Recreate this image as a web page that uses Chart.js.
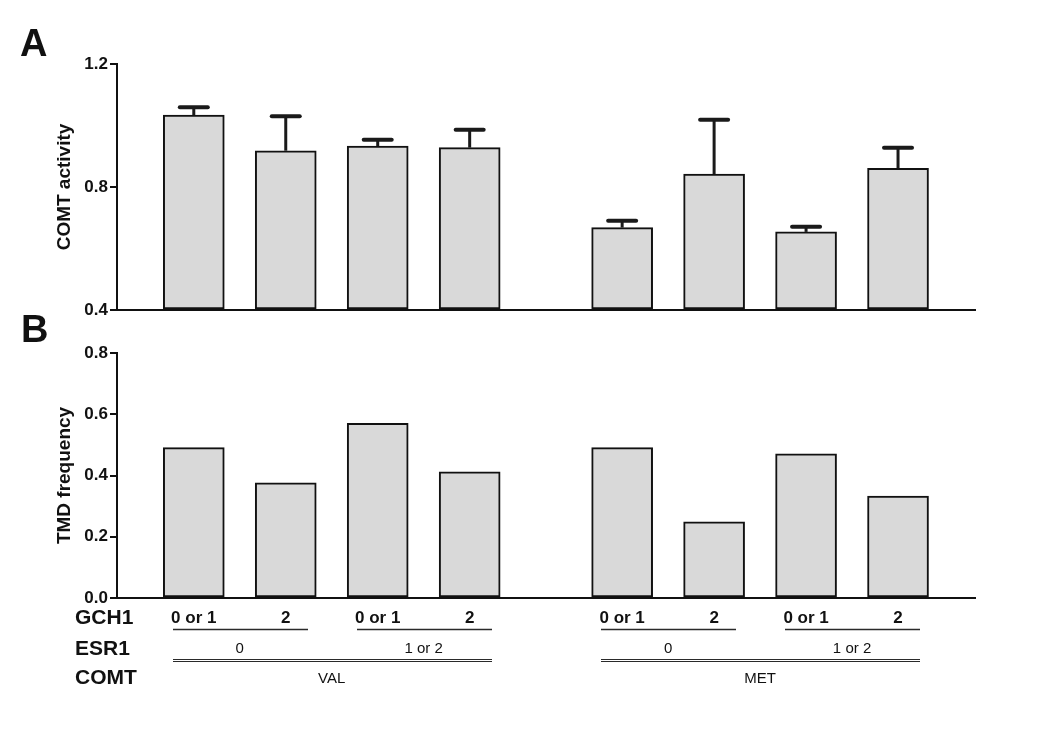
<!DOCTYPE html>
<html>
<head>
<meta charset="utf-8">
<script src="https://cdn.jsdelivr.net/npm/chart.js@4.4.1/dist/chart.umd.min.js"></script>
<style>
  html, body { margin: 0; padding: 0; background: #fff; }
  #wrap { position: relative; width: 1050px; height: 729px; }
  canvas { position: absolute; left: 0; }
  #activityChart { top: 0; }
  #frequencyChart { top: 300px; }
</style>
</head>
<body>
<div id="wrap">
  <canvas id="activityChart" width="1050" height="330"></canvas>
  <canvas id="frequencyChart" width="1050" height="429"></canvas>
</div>
<script>
// ===== Data =====
const gch1Labels = ['0 or 1', '2', '0 or 1', '2', '0 or 1', '2', '0 or 1', '2'];
const esr1Labels = ['0', '1 or 2', '0', '1 or 2'];
const comtLabels = ['VAL', 'MET'];

const activityMean = [1.034, 0.918, 0.933, 0.928, 0.668, 0.842, 0.654, 0.861];
const activitySem  = [0.025, 0.112, 0.021, 0.058, 0.022, 0.177, 0.017, 0.067];
const tmdFrequency = [0.491, 0.376, 0.570, 0.412, 0.491, 0.249, 0.471, 0.333];

const activityTicks  = [0.4, 0.8, 1.2];
const frequencyTicks = [0.0, 0.2, 0.4, 0.6, 0.8];

// ===== Layout helpers =====
const FONT = "'Liberation Sans', Arial, Helvetica, sans-serif";
const INK = '#111';
const GROUP_GAP = 0.658;   // extra space between VAL and MET groups, in bar slots

function barX(i) {
    return i + 1 + (i >= 4 ? GROUP_GAP : 0);
}

// error bars (upper only) for panel A
const errorBarPlugin = {
    id: 'errorBars',
    afterDatasetsDraw(chart) {
        const { ctx } = chart;
        const yScale = chart.scales.y;
        const meta = chart.getDatasetMeta(0);
        ctx.save();
        ctx.strokeStyle = '#1a1a1a';
        meta.data.forEach((bar, i) => {
            const top = yScale.getPixelForValue(activityMean[i] + activitySem[i]);
            ctx.lineCap = 'butt';
            ctx.lineWidth = 3;
            ctx.beginPath();
            ctx.moveTo(bar.x, bar.y);
            ctx.lineTo(bar.x, top);
            ctx.stroke();
            ctx.lineCap = 'round';
            ctx.lineWidth = 4;
            ctx.beginPath();
            ctx.moveTo(bar.x - 14, top);
            ctx.lineTo(bar.x + 14, top);
            ctx.stroke();
        });
        ctx.restore();
    }
};

function panelLetter(letter, x, y) {
    return {
        id: 'panelLetter',
        afterDraw(chart) {
            const { ctx } = chart;
            ctx.save();
            ctx.fillStyle = INK;
            ctx.font = 'bold 38px ' + FONT;
            ctx.textAlign = 'left';
            ctx.textBaseline = 'alphabetic';
            ctx.fillText(letter, x, y);
            ctx.restore();
        }
    };
}

// genotype rows under panel B
const groupLabelPlugin = {
    id: 'groupLabels',
    afterDraw(chart) {
        const { ctx, chartArea } = chart;
        const xScale = chart.scales.x;
        const base = chartArea.bottom;
        const px = i => xScale.getPixelForValue(barX(i));
        const hline = (l, r, y, w) => {
            ctx.lineWidth = w;
            ctx.beginPath();
            ctx.moveTo(Math.round(l), y);
            ctx.lineTo(Math.round(r), y);
            ctx.stroke();
        };

        ctx.save();
        ctx.fillStyle = INK;
        ctx.strokeStyle = '#2a2a2a';
        ctx.textBaseline = 'middle';

        // row titles
        ctx.font = 'bold 21px ' + FONT;
        ctx.textAlign = 'left';
        ctx.fillText('GCH1', 75, base + 20);
        ctx.fillText('ESR1', 75, base + 51);
        ctx.fillText('COMT', 75, base + 80);

        // GCH1
        ctx.font = 'bold 17px ' + FONT;
        ctx.textAlign = 'center';
        gch1Labels.forEach((t, i) => ctx.fillText(t, px(i), base + 20));

        // ESR1
        ctx.font = '15px ' + FONT;
        const single = Math.round(base + 31) + 0.5;
        esr1Labels.forEach((t, j) => {
            const a = px(2 * j), b = px(2 * j + 1);
            hline(a - 21, b + 22, single, 1.5);
            ctx.fillText(t, (a + b) / 2, base + 51);
        });

        // COMT (double rule)
        const dbl = Math.round(base + 61) + 0.5;
        comtLabels.forEach((t, k) => {
            const a = px(4 * k), b = px(4 * k + 3);
            hline(a - 21, b + 22, dbl, 1);
            hline(a - 21, b + 22, dbl + 2, 1);
            ctx.fillText(t, (a + b) / 2, base + 81);
        });
        ctx.restore();
    }
};

function xAxis() {
    return {
        type: 'linear',
        min: 0.165,
        max: 9.495,
        offset: false,
        afterFit: s => { s.height = 0; },
        ticks: { display: false },
        grid: { display: false, drawTicks: false, offset: false },
        border: { display: true, color: INK, width: 2 }
    };
}

function yAxis(min, max, ticks, title) {
    return {
        min: min,
        max: max,
        afterFit: s => { s.width = 117; },
        afterBuildTicks: s => { s.ticks = ticks.map(v => ({ value: v })); },
        border: { display: true, color: INK, width: 2 },
        grid: { drawOnChartArea: false, drawTicks: true, tickLength: 7, color: INK, lineWidth: 2 },
        ticks: {
            color: INK,
            padding: 2,
            font: { family: FONT, size: 17, weight: 'bold' },
            callback: v => Number(v).toFixed(1)
        },
        title: {
            display: true,
            text: title,
            color: INK,
            font: { family: FONT, size: 19, weight: 'bold' },
            padding: { top: 53, bottom: 0 }
        }
    };
}

function barDataset(values, base) {
    return {
        data: values.map((v, i) => ({ x: barX(i), y: v })),
        base: base,
        backgroundColor: '#d9d9d9',
        borderColor: INK,
        borderWidth: 2,
        borderSkipped: false,
        barThickness: 61
    };
}

// ===== Panel A: COMT activity =====
function initActivityChart() {
    const ctx = document.getElementById('activityChart');
    new Chart(ctx, {
        type: 'bar',
        data: { datasets: [barDataset(activityMean, 0.4)] },
        options: {
            responsive: false,
            animation: false,
            layout: { padding: { top: 64, bottom: 20, left: 0, right: 75 } },
            plugins: { legend: { display: false }, tooltip: { enabled: false } },
            scales: {
                x: xAxis(),
                y: yAxis(0.4, 1.2, activityTicks, 'COMT activity')
            }
        },
        plugins: [errorBarPlugin, panelLetter('A', 20, 56)]
    });
}

// ===== Panel B: TMD frequency =====
function initFrequencyChart() {
    const ctx = document.getElementById('frequencyChart');
    new Chart(ctx, {
        type: 'bar',
        data: { datasets: [barDataset(tmdFrequency, 0)] },
        options: {
            responsive: false,
            animation: false,
            layout: { padding: { top: 53, bottom: 131, left: 0, right: 75 } },
            plugins: { legend: { display: false }, tooltip: { enabled: false } },
            scales: {
                x: xAxis(),
                y: yAxis(0, 0.8, frequencyTicks, 'TMD frequency')
            }
        },
        plugins: [groupLabelPlugin, panelLetter('B', 21, 42)]
    });
}

initActivityChart();
initFrequencyChart();
</script>
</body>
</html>
